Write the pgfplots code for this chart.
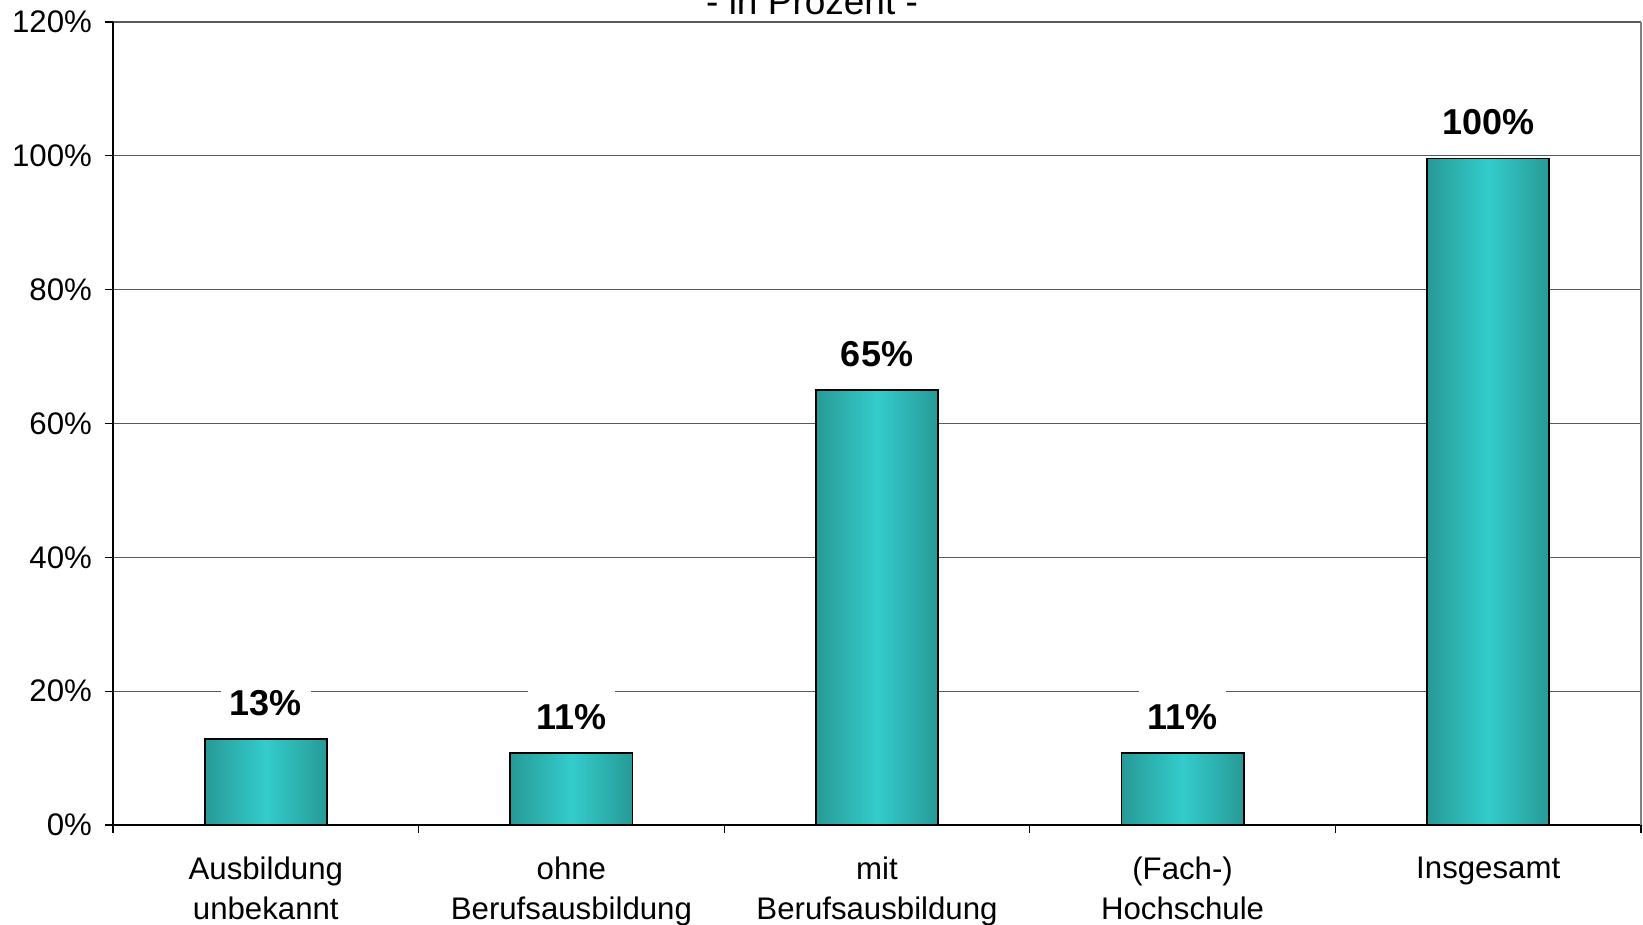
\documentclass[border=0pt]{standalone}
\usepackage{fontspec}
\setmainfont{Liberation Sans}
\usepackage{pgfplots}
\pgfplotsset{compat=1.18}
\definecolor{tdark}{HTML}{279A96}
\definecolor{tlight}{HTML}{33CCCC}
\begin{document}
\begin{tikzpicture}
\begin{axis}[
  at={(0,0)}, anchor=south west,
  scale only axis, width=764pt, height=401.5pt,
  xmin=-0.5, xmax=4.5, ymin=0, ymax=120,
  axis x line*=bottom, axis y line*=left,
  axis line style={-, black, line width=0.8pt},
  ytick={0,20,...,120},
  yticklabel={\pgfmathprintnumber{\tick}\%},
  /pgf/number format/assume math mode=true,
  ymajorgrids, grid style={black!65, line width=0.6pt},
  xtick={-0.5,0.5,1.5,2.5,3.5,4.5},
  xticklabels={{Ausbildung\\unbekannt},{ohne\\Berufsausbildung},{mit\\Berufsausbildung},{(Fach-)\\Hochschule},{Insgesamt},{}},
  major tick length=4pt,
  tick align=outside,
  tick style={black, line width=0.6pt},
  ytick pos=left, xtick pos=bottom,
  tick label style={font=\fontsize{15.6}{20}\selectfont},
  xticklabel style={align=center, anchor=north, yshift=-8.6pt, xshift=76.4pt},
  yticklabel style={xshift=-3pt},
  clip=false,
  tbar/.style={ybar, bar width=0.4, bar shift=0, draw=black, line width=0.9pt,
    left color=tdark, right color=tdark, middle color=tlight},
]
\draw[black!50, line width=0.8pt] (rel axis cs:1,0) -- (rel axis cs:1,1);
\addplot[tbar] coordinates {(0,12.8)};
\addplot[tbar] coordinates {(1,10.8)};
\addplot[tbar] coordinates {(2,65)};
\addplot[tbar] coordinates {(3,10.8)};
\addplot[tbar] coordinates {(4,99.6)};
\end{axis}
\begin{axis}[
  at={(0,0)}, anchor=south west,
  scale only axis, width=764pt, height=401.5pt,
  xmin=-0.5, xmax=4.5, ymin=0, ymax=120,
  hide axis, clip=false]
\addplot[draw=none, mark=none, point meta=explicit symbolic,
  nodes near coords,
  every node near coord/.append style={font=\bfseries\fontsize{18}{21}\selectfont,
    fill=white, text=black, inner xsep=4.4pt, inner ysep=10pt, anchor=center, yshift=18pt}]
  coordinates {(0,12.8) [13\%] (1,10.8) [11\%] (2,65) [65\%] (3,10.8) [11\%] (4,99.6) [100\%]};
\node[font=\fontsize{18.5}{22}\selectfont, anchor=base] at (rel axis cs:0.4575,1) [yshift=3.5pt] {- in Prozent -};
\end{axis}
\pgfresetboundingbox
\path[use as bounding box] (-56.5pt,-50pt) rectangle (765pt,412.5pt);
\end{tikzpicture}
\end{document}
